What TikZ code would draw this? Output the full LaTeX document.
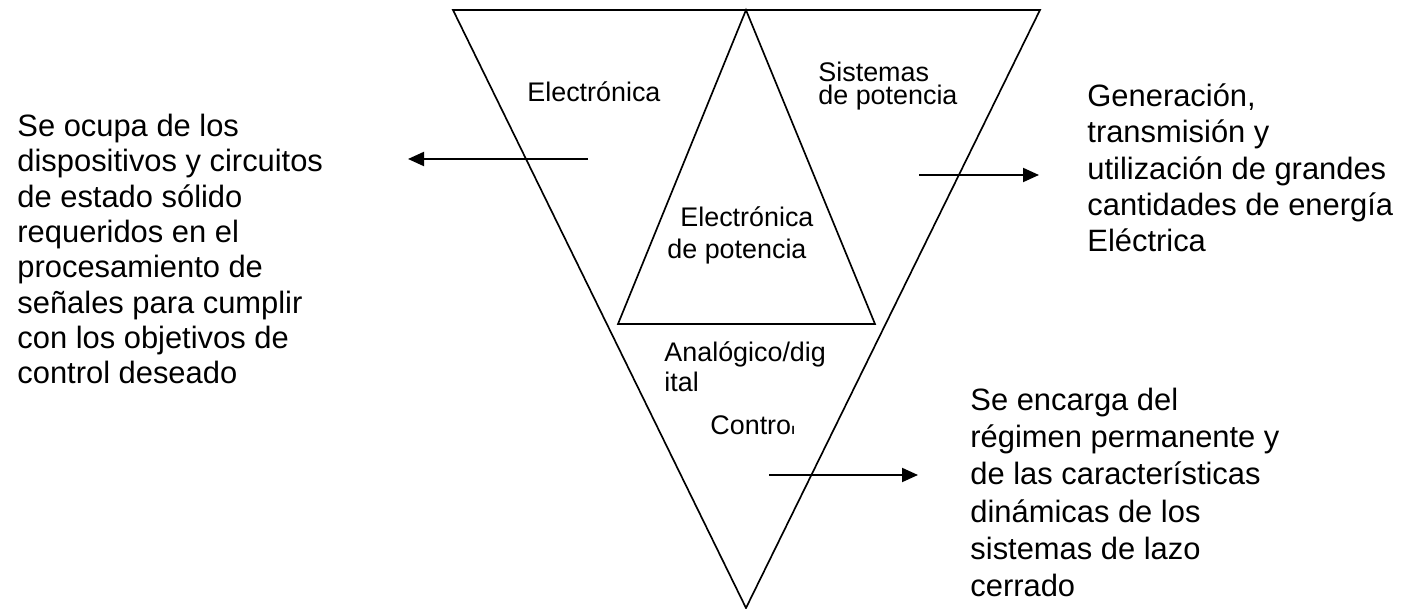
\documentclass[tikz,border=0pt]{standalone}
\usepackage{fontspec}
\setmainfont{Liberation Sans}
\usetikzlibrary{arrows.meta}
\begin{document}
\begin{tikzpicture}[x=0.45pt,y=-0.45pt,
  tri/.style={line width=0.75pt, line join=miter},
  arr/.style={line width=0.9pt,-{Triangle[length=7.2pt,width=6.3pt]}},
  bigtxt/.style={font=\fontsize{13.9pt}{15.9pt}\selectfont, align=left, anchor=base west, inner sep=0pt},
  smalltxt/.style={font=\fontsize{12.1pt}{13.5pt}\selectfont, align=left, anchor=base west, inner sep=0pt}]
\useasboundingbox (0,0) rectangle (1410,609);
% triangles
\coordinate (A) at (453,10);
\coordinate (B) at (1040,10);
\coordinate (C) at (746,608);
\coordinate (T) at (746,10);
\coordinate (L) at (618,324);
\coordinate (R) at (875,324);
\draw[tri] (A) -- (B) -- (C) -- cycle;
\draw[tri] (T) -- (R) -- (L) -- cycle;
% labels inside (anchor = baseline of last line)
\node[smalltxt] (elec) at (527,102) {Electrónica};
\node[smalltxt, font=\fontsize{12.1pt}{10.6pt}\selectfont] (sist) at (818,105) {Sistemas\\de potencia};
\node[smalltxt, font=\fontsize{12.1pt}{14.8pt}\selectfont] (epot) at (667,259) {\hspace*{5.85pt}Electrónica\\de potencia};
\node[smalltxt] (anal) at (664,392) {Analógico/dig\\ital};
\node[smalltxt] (ctrl) at (710,435) {Contro\scalebox{0.7}[0.42]{l}};
% descriptions
\node[bigtxt] (dleft) at (17,384) {Se ocupa de los\\dispositivos y circuitos\\de estado sólido\\requeridos en el\\procesamiento de\\señales para cumplir\\con los objetivos de\\control deseado};
\node[bigtxt, font=\fontsize{13.9pt}{16.4pt}\selectfont] (dgen) at (1087,252) {Generación,\\transmisión y\\utilización de grandes\\cantidades de energía\\Eléctrica};
\node[bigtxt, font=\fontsize{13.9pt}{16.8pt}\selectfont] (dctrl) at (970,597) {Se encarga del\\régimen permanente y\\de las características\\dinámicas de los\\sistemas de lazo\\cerrado};
% arrows
\coordinate (a1s) at (588,159);
\coordinate (a1e) at (408,159);
\coordinate (a2s) at (919,175);
\coordinate (a2e) at (1039,175);
\coordinate (a3s) at (769,475);
\coordinate (a3e) at (918,475);
\draw[arr] (a1s) -- (a1e);
\draw[arr] (a2s) -- (a2e);
\draw[arr] (a3s) -- (a3e);
\end{tikzpicture}
\end{document}
